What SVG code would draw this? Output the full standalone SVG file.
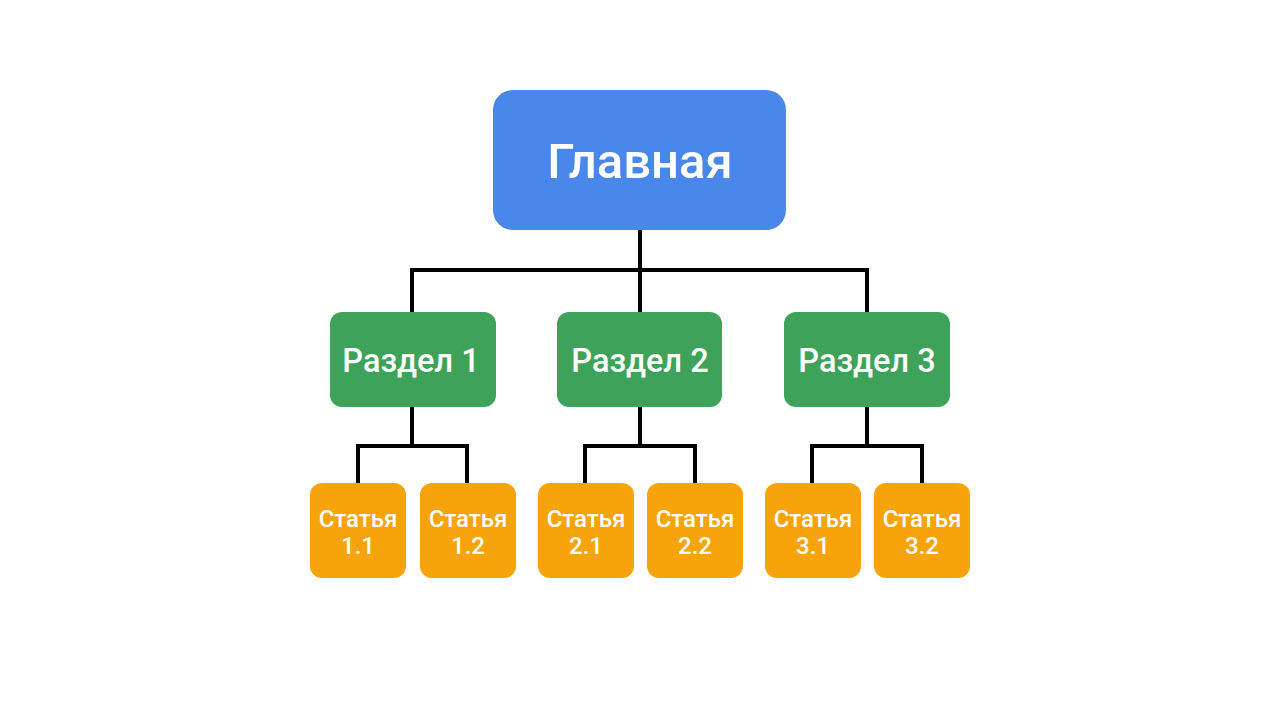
<svg xmlns="http://www.w3.org/2000/svg" width="1280" height="720" viewBox="0 0 1280 720">
<style>
.main{fill:#4a87ea}
.sec{fill:#3fa25a}
.art{fill:#f6a30c}
.t{font-family:Roboto,"Liberation Sans",sans-serif;fill:#fff;text-anchor:middle;font-weight:500}
.wire{fill:none;stroke:#000;stroke-width:4;stroke-linejoin:miter}
</style>
<rect width="1280" height="720" fill="#fff"/>
<g id="connectors" class="wire">
<path d="M640 230V270M412 312V270H867V312M640 270V312"/>
<path d="M412 407V446M358 483V446H467V483"/>
<path d="M640 407V446M585 483V446H695V483"/>
<path d="M867 407V446M812 483V446H922V483"/>
</g>
<g id="glavnaya"><rect class="main" x="493" y="90" width="293" height="140" rx="20"/><text class="t" x="640" y="178" font-size="49">Главная</text></g>
<g id="razdel1"><rect class="sec" x="330" y="312" width="166" height="95" rx="12"/><text class="t" x="411" y="372" font-size="32.5">Раздел 1</text></g>
<g id="razdel2"><rect class="sec" x="557" y="312" width="165" height="95" rx="12"/><text class="t" x="640" y="372" font-size="32.5">Раздел 2</text></g>
<g id="razdel3"><rect class="sec" x="784" y="312" width="166" height="95" rx="12"/><text class="t" x="867" y="372" font-size="32.5">Раздел 3</text></g>
<g id="st11"><rect class="art" x="310" y="483" width="96" height="95" rx="12"/><text class="t" x="358" y="527" font-size="24">Статья</text><text class="t" x="358" y="554" font-size="24">1.1</text></g>
<g id="st12"><rect class="art" x="420" y="483" width="96" height="95" rx="12"/><text class="t" x="468" y="527" font-size="24">Статья</text><text class="t" x="468" y="554" font-size="24">1.2</text></g>
<g id="st21"><rect class="art" x="538" y="483" width="96" height="95" rx="12"/><text class="t" x="586" y="527" font-size="24">Статья</text><text class="t" x="586" y="554" font-size="24">2.1</text></g>
<g id="st22"><rect class="art" x="647" y="483" width="96" height="95" rx="12"/><text class="t" x="695" y="527" font-size="24">Статья</text><text class="t" x="695" y="554" font-size="24">2.2</text></g>
<g id="st31"><rect class="art" x="765" y="483" width="96" height="95" rx="12"/><text class="t" x="813" y="527" font-size="24">Статья</text><text class="t" x="813" y="554" font-size="24">3.1</text></g>
<g id="st32"><rect class="art" x="874" y="483" width="96" height="95" rx="12"/><text class="t" x="922" y="527" font-size="24">Статья</text><text class="t" x="922" y="554" font-size="24">3.2</text></g>
</svg>
